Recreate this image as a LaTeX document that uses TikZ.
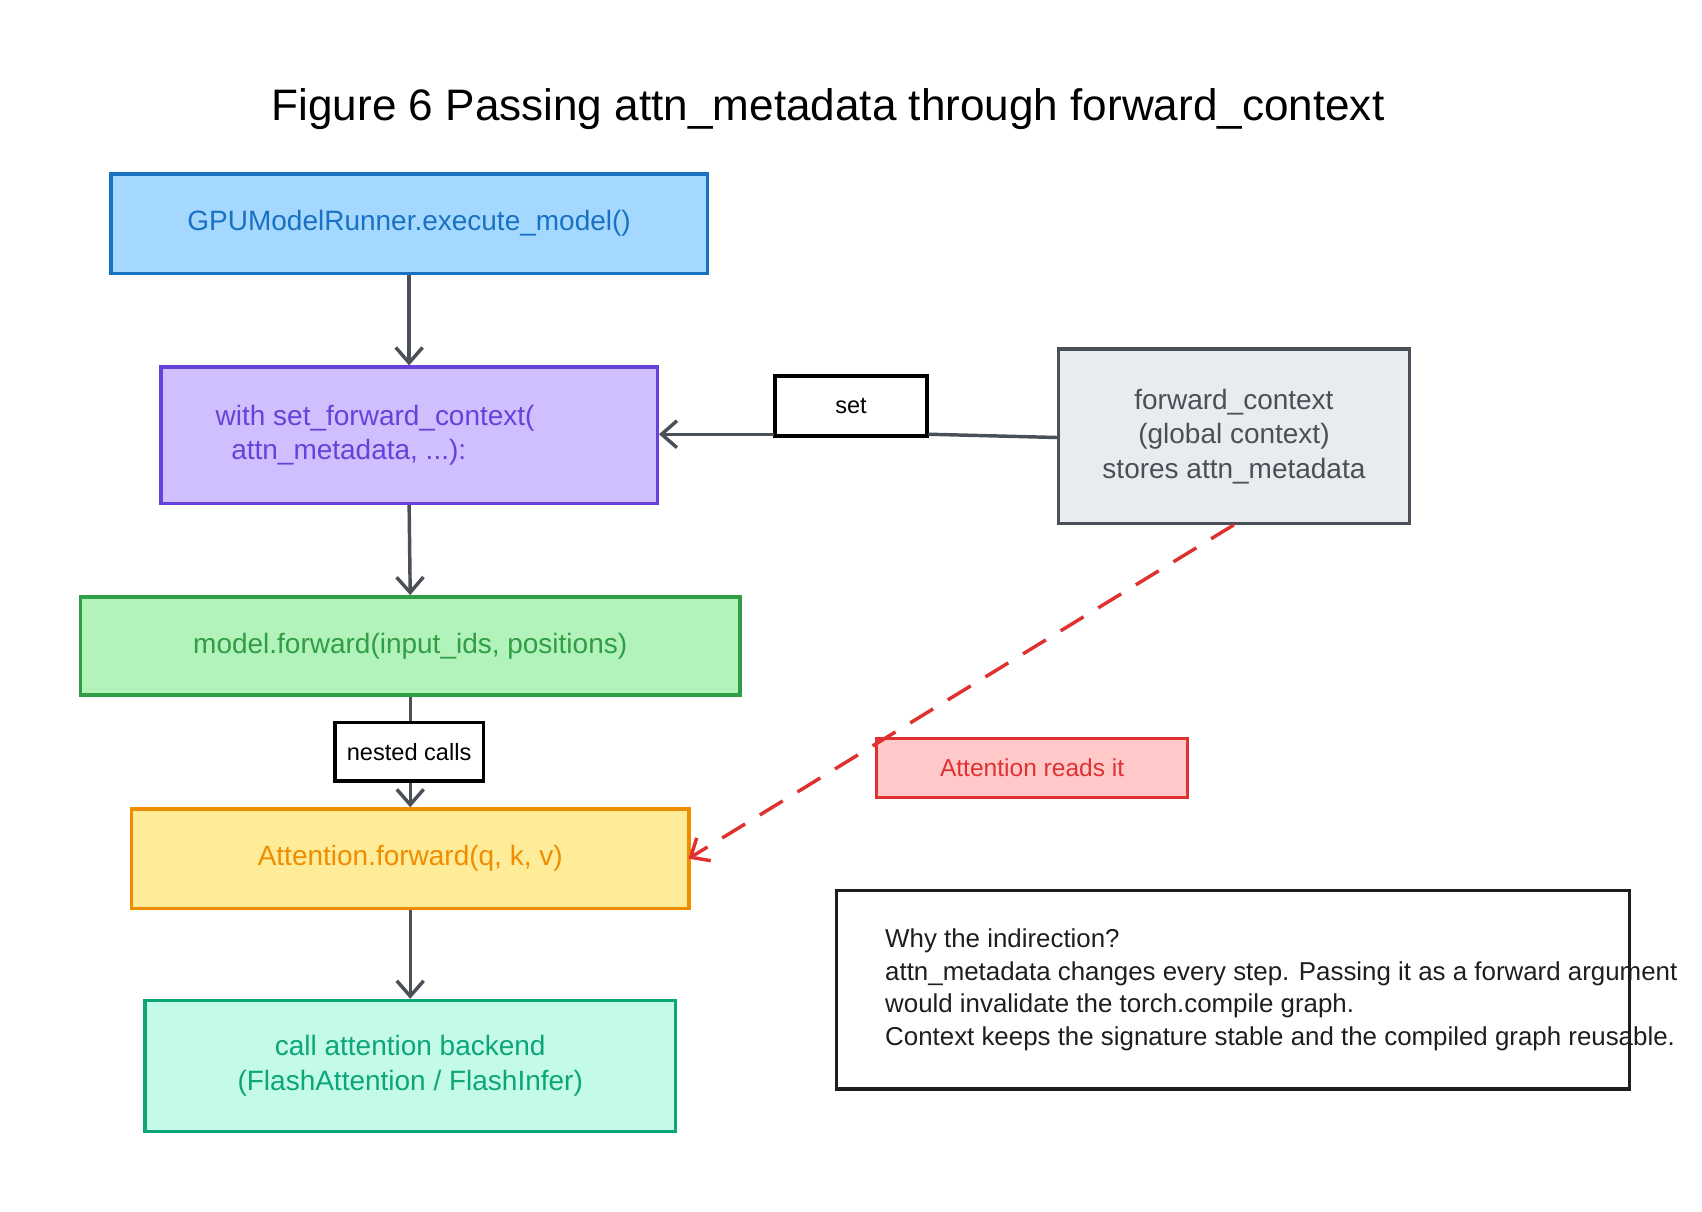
\documentclass[tikz,border=0pt]{standalone}
\usepackage{fontspec}
\setmainfont{Liberation Sans}
\usetikzlibrary{arrows.meta}
\definecolor{ink}{HTML}{495057}
\tikzset{
  box/.style={draw, line width=1.8pt, inner sep=0pt, align=center, font=\fontsize{14.6}{18}\selectfont},
  lbl/.style={draw=black, fill=white, line width=1.8pt, inner sep=0pt, font=\fontsize{12.3}{14}\selectfont},
  arr/.style={draw=ink, line width=1.8pt, -{Straight Barb[length=8pt,width=14pt,line width=1.8pt]}},
}
\begin{document}
\begin{tikzpicture}[x=0.02cm,y=-0.02cm]
\useasboundingbox[fill=white] (0,0) rectangle (1560,1110);
\node[font=\fontsize{23}{26}\selectfont] (title) at (759,100) {Figure 6 Passing attn\_metadata through forward\_context};
\node[box, draw={rgb,255:red,25;green,113;blue,194}, fill={rgb,255:red,165;green,216;blue,255}, text={rgb,255:red,25;green,113;blue,194}, minimum width=10.94cm, minimum height=1.82cm] (b1) at (375,205) {GPUModelRunner.execute\_model()};
\node[box, draw={rgb,255:red,103;green,65;blue,217}, fill={rgb,255:red,208;green,191;blue,255}, text={rgb,255:red,103;green,65;blue,217}, minimum width=9.1cm, minimum height=2.5cm, align=left] (b2) at (375,399) {with set\_forward\_context(\\\ \ attn\_metadata, ...):\hspace*{2.5cm}};
\node[box, draw=ink, fill={rgb,255:red,233;green,236;blue,239}, text=ink, minimum width=6.44cm, minimum height=3.2cm] (ctx) at (1131,400) {forward\_context\\(global context)\\stores attn\_metadata};
\node[box, draw={rgb,255:red,47;green,158;blue,68}, fill={rgb,255:red,178;green,242;blue,187}, text={rgb,255:red,47;green,158;blue,68}, minimum width=12.1cm, minimum height=1.8cm] (b3) at (376,592) {model.forward(input\_ids, positions)};
\node[box, draw={rgb,255:red,240;green,140;blue,0}, fill={rgb,255:red,255;green,236;blue,153}, text={rgb,255:red,240;green,140;blue,0}, minimum width=10.22cm, minimum height=1.82cm] (b4) at (376,787) {Attention.forward(q, k, v)};
\node[box, draw={rgb,255:red,12;green,166;blue,120}, fill={rgb,255:red,195;green,250;blue,232}, text={rgb,255:red,12;green,166;blue,120}, minimum width=9.72cm, minimum height=2.4cm] (b5) at (376,977) {call attention backend\\(FlashAttention / FlashInfer)};
\node[box, draw={rgb,255:red,224;green,49;blue,49}, fill={rgb,255:red,255;green,201;blue,201}, text={rgb,255:red,224;green,49;blue,49}, minimum width=5.7cm, minimum height=1.08cm, font=\fontsize{12.8}{14}\selectfont] (rd) at (946,704) {Attention reads it};
\node[box, draw={rgb,255:red,30;green,30;blue,30}, fill=white, minimum width=14.54cm, minimum height=3.64cm] (note) at (1130,907) {};
\node[anchor=north west, align=left, inner sep=0pt, font=\fontsize{13.5}{17}\selectfont, text={rgb,255:red,30;green,30;blue,30}] (nt) at (811,851) {Why the indirection?\\attn\_metadata changes every step. Passing it as a forward argument\\would invalidate the torch.compile graph.\\Context keeps the signature stable and the compiled graph reusable.};
\node[lbl, minimum width=2.78cm, minimum height=1.1cm] (set) at (780,372) {set};
\coordinate (setl) at (709,398);
\coordinate (setr) at (851,398);
\coordinate (ctxl) at (969,401);
\coordinate (b2r) at (604,398);
\draw[draw=ink, line width=1.8pt] (ctxl) -- (setr);
\draw[arr] (setl) -- (b2r);
\draw[arr] (b1.south) -- (b2.north);
\draw[arr] (b2.south) -- (b3.north);
\draw[arr] (b3.south) -- (b4.north);
\node[lbl, minimum width=2.72cm, minimum height=1.08cm] (nc) at (375,689) {nested calls};
\draw[arr] (b4.south) -- (b5.north);
\coordinate (ctxb) at (1131,481);
\coordinate (b4r) at (631,787);
\draw[draw={rgb,255:red,224;green,49;blue,49}, line width=1.8pt, dash pattern=on 14pt off 9pt, -{Straight Barb[length=8pt,width=14pt,line width=1.8pt]}] (ctxb) -- (b4r);
\end{tikzpicture}
\end{document}
